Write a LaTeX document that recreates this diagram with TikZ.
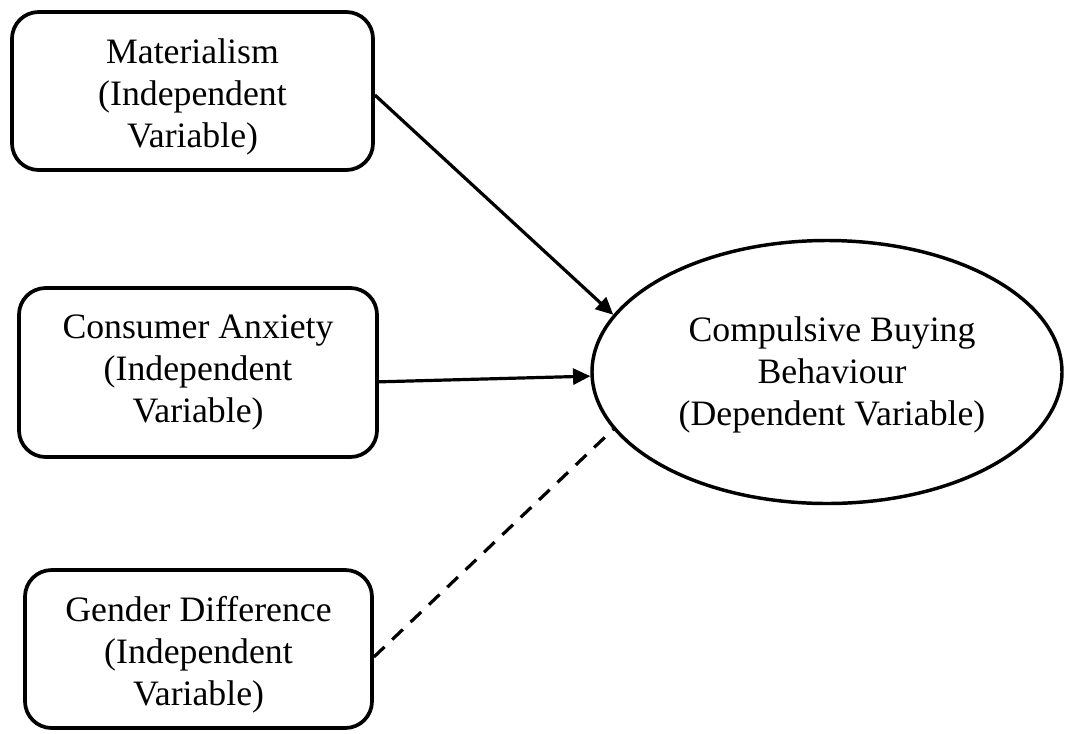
\documentclass[tikz,border=0pt]{standalone}
\usepackage{fontspec}
\setmainfont{Liberation Serif}
\usetikzlibrary{shapes.geometric,arrows.meta,calc}
\begin{document}
\begin{tikzpicture}[x=0.75pt,y=-0.75pt,
  txt/.style={align=center,font=\fontsize{26.8pt}{31.5pt}\selectfont},
  varbox/.style={txt,draw,line width=2.8pt,rounded corners=20pt,inner sep=0pt},
  depvar/.style={txt,draw,ellipse,line width=2.6pt,inner sep=0pt,minimum width=352.5pt,minimum height=197.25pt},
  arr/.style={line width=2.4pt,-{Triangle[length=13pt,width=12pt]}},
  dashlink/.style={line width=2.4pt,dash pattern=on 11pt off 8pt}]
\useasboundingbox (0,0) rectangle (1065,733);
\node[varbox,minimum width=270.75pt,minimum height=118.5pt] (b1) at (192.5,91) {};
\node[txt] (t1) at (192.5,97) {Materialism\\(Independent\\Variable)};
\node[varbox,minimum width=268.5pt,minimum height=126.75pt] (b2) at (198,372.5) {};
\node[txt] (t2) at (198,372) {Consumer Anxiety\\(Independent\\Variable)};
\node[varbox,minimum width=260.25pt,minimum height=118.5pt] (b3) at (198.5,649) {};
\node[txt] (t3) at (198.5,655) {Gender Difference\\(Independent\\Variable)};
\node[depvar] (cb) at (827,372) {};
\node[txt] (tc) at (832,375) {Compulsive Buying\\Behaviour\\(Dependent Variable)};
\draw[arr] ($(b1.east)+(0,-3pt)$) -- (cb.165.8);
\draw[arr] ($(b2.east)+(0,-7pt)$) -- (cb.181.9);
\draw[dashlink] ($(b3.east)+(0,-6pt)$) -- (cb.195.9);
\end{tikzpicture}
\end{document}
